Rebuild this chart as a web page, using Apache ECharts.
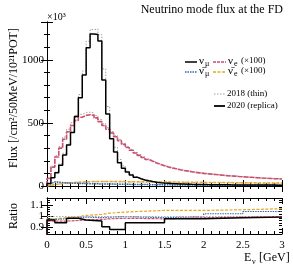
<!DOCTYPE html>
<html><head><meta charset="utf-8">
<script src="https://cdn.jsdelivr.net/npm/echarts@6/dist/echarts.min.js"></script>
<style>html,body{margin:0;padding:0;background:#fff}#c{width:293px;height:266px}</style>
</head><body><div id="c"></div>
<script>
// ---- data (flux in units of 10^3 /cm2/50MeV/1e21 POT; nue, antinue scaled x100) ----
const numu2020 = [20,65,105,165,245,325,425,550,700,880,1095,1205,1200,1150,840,570,375,270,185,140,
  110,87,70,58,48,41,35,30,26,23,21,19,17.5,16,15,14,13,12.5,12,11.5,
  11,10.6,10.2,9.9,9.6,9.3,9.0,8.8,8.6,8.4,8.2,8.0,7.8,7.6,7.5,7.3,7.2,7.0,6.9,6.8];
const numu2018 = [21,67,112,176,260,332,434,561,725,912,1147,1240,1245,1200,928,630,426,307,210,159,
  117,93,74,62,51,44,37,32,28,24,21.5,19.5,18,16.4,15.4,14.4,13.3,12.8,12.3,11.8,
  11.2,10.8,10.4,10.1,9.8,9.4,9.1,8.9,8.7,8.5,8.3,8.1,7.9,7.7,7.6,7.4,7.3,7.1,7.0,6.9];
const nue2020 = [60,150,230,300,370,430,480,520,545,560,565,560,540,510,480,450,420,390,360,330,
  305,283,262,243,226,210,196,183,171,160,151,143,136,129,123,118,113,108,104,100,
  97,94,91,88,85,82,80,78,75,73,71,69,67,65,63,62,60,58,57,55];
const nue2018 = [63,157,241,314,388,450,502,543,568,583,585,579,558,527,494,463,431,400,369,338,
  312,290,268,249,231,215,200,187,175,164,154,146,139,132,126,120,115,110,106,102,
  98,95,92,89,86,83,81,79,76,74,71,69,67,65,63,62,60,58,57,55];
const antinumu2020 = [18,32,30,27,25,23,22,21,20,19,18,17.5,17,16.5,16,15.5,15,14.5,14,13.5,
  13,12.6,12.2,11.8,11.4,11,10.6,10.2,9.9,9.6,9.3,9.0,8.7,8.4,8.1,7.8,7.6,7.4,7.2,7.0,
  6.8,6.7,6.5,6.4,6.2,6.1,6.0,5.9,5.8,5.7,5.6,5.5,5.4,5.3,5.3,5.2,5.1,5.1,5.0,5.0];
const antinumu2018 = [18.5,33,31,27.5,25.5,23.3,22.3,21.3,20.2,19.2,18.3,17.7,17.2,16.7,16.1,15.6,15.1,14.6,14.1,13.6,
  13.1,12.7,12.3,11.9,11.5,11.1,10.7,10.3,10.0,9.7,9.4,9.1,8.8,8.5,8.2,7.9,7.7,7.5,7.3,7.1,
  6.8,6.6,6.4,6.3,6.1,6.0,5.9,5.8,5.7,5.6,5.4,5.3,5.2,5.1,5.1,5.0,4.9,4.9,4.8,4.8];
const antinue2020 = [5,10,15,19,23,26,28,30,32,33,34,35,35.5,36,36,36,36,35.5,35,34.8,
  34.5,34.2,34,33.7,33.4,33.1,32.8,32.5,32.2,31.9,31.6,31.3,31,30.7,30.4,30.1,29.8,29.5,29.2,28.9,
  28.6,28.3,28,27.7,27.4,27.1,26.8,26.5,26.2,25.9,25.6,25.3,25,24.7,24.4,24.1,23.8,23.5,23.2,23];
const antinue2018 = [5.1,10.2,15.2,19.1,23,25.8,27.6,29.4,31.2,32,32.8,33.6,34,34.3,34.2,34,33.9,33.3,32.8,32.5,
  32.2,32,31.7,31.4,31.1,30.8,30.5,30.2,29.9,29.6,30,29.7,29.4,29.1,28.8,28.5,28.2,27.9,27.6,27.3,
  26.9,26.6,26.3,26,25.7,25.4,25.1,24.8,24.5,24.2,23.8,23.5,23.2,22.9,22.6,22.3,22,21.8,21.5,21.3];

const ratioEdges = [0,0.1,0.25,0.4,0.5,0.7,0.8,1.0,1.5,2.0,2.5,3.0];
const ratioNumu     = [0.965,0.94,0.98,0.965,0.955,0.905,0.88,0.94,0.975,0.985,0.99];
const ratioNue      = [0.955,0.955,0.96,0.965,0.97,0.975,0.98,0.975,0.985,0.99,0.995];
const ratioAntinumu = [0.97,0.975,0.985,0.99,0.985,0.99,0.995,0.985,0.995,1.02,1.04];
const ratioAntinue  = [0.975,0.985,0.995,1.005,1.015,1.025,1.035,1.05,1.05,1.055,1.065];

const xTicks = [0,0.5,1,1.5,2,2.5,3];
const fluxTicks = [0,500,1000];
const ratioTicks = [0.9,1,1.1];
const ratioMinor = [0.86,0.88,0.92,0.94,0.96,0.98,1.02,1.04,1.06,1.08,1.12,1.14];

const binEdges = Array.from({length:61},(_,i)=>+(i*0.05).toFixed(2));

// ---- styling ----
const FONT = 'Liberation Serif';
const C_NUMU = '#000000', C_NUE = '#cc4f6f', C_ANUMU = '#2f62b4', C_ANUE = '#e9a81a', C_OLD = '#a0a0a0';

function histData(edges, vals){
  const d = [[edges[0], 0]];
  vals.forEach((v,i)=>d.push([edges[i], v]));
  d.push([edges[edges.length-1], vals[vals.length-1]]);
  return d;
}
function hist(edges, vals, color, width, type, xi, yi, z){
  return {type:'line', xAxisIndex:xi, yAxisIndex:yi, data:histData(edges, vals), step:'end',
    symbol:'none', silent:true, animation:false, z:z, clip:true,
    lineStyle:{color:color, width:width, type:type}};
}
const axLine = {show:true, lineStyle:{color:'#000', width:1}};
function xAx(grid, pos, labels){
  return {type:'value', gridIndex:grid, position:pos, min:0, max:3, interval:0.5,
    axisLine:axLine, splitLine:{show:false},
    axisTick:{show:true, inside:true, length:6, lineStyle:{color:'#000'}},
    minorTick:{show:true, splitNumber:5, length:3, lineStyle:{color:'#000'}},
    axisLabel:{show:labels, color:'#000', fontFamily:FONT, fontSize:11, margin:6,
      formatter:(v)=>String(v), customValues: labels ? xTicks : undefined}};
}

const chart = echarts.init(document.getElementById('c'), null, {renderer:'canvas'});

const series = [
  hist(binEdges, numu2018, C_OLD, 1, [1.5,1.5], 0, 0, 2),
  hist(binEdges, nue2018, C_OLD, 1, [1.5,1.5], 0, 0, 2),
  hist(binEdges, antinumu2018, C_OLD, 1, [1.5,1.5], 0, 0, 2),
  hist(binEdges, antinue2018, C_OLD, 1, [1.5,1.5], 0, 0, 2),
  hist(binEdges, antinue2020, C_ANUE, 1.5, [3,1.5], 0, 0, 3),
  hist(binEdges, antinumu2020, C_ANUMU, 1.5, [1.5,1], 0, 0, 4),
  hist(binEdges, nue2020, C_NUE, 1.6, [5,1], 0, 0, 5),
  hist(binEdges, numu2020, C_NUMU, 1.5, 'solid', 0, 0, 6),
  hist(ratioEdges, ratioAntinue, C_ANUE, 1.2, [3,1.5], 2, 2, 3),
  hist(ratioEdges, ratioAntinumu, C_ANUMU, 1.2, [1.5,1], 2, 2, 4),
  hist(ratioEdges, ratioNue, C_NUE, 1.2, [3,1], 2, 2, 5),
  Object.assign(hist(ratioEdges, ratioNumu, C_NUMU, 1.5, 'solid', 2, 2, 6), {
    markLine:{silent:true, symbol:'none', label:{show:false}, animation:false,
      lineStyle:{color:'#aaaaaa', type:[1.5,1.5], width:1}, data:[{yAxis:1}]}})
];

// legend drawn as graphic
function legLine(x1, x2, y, color, width, dash){
  return {type:'line', shape:{x1:x1, y1:y, x2:x2, y2:y}, style:{stroke:color, lineWidth:width, lineDash:dash}, silent:true};
}
function txt(x, y, s, size, align){
  return {type:'text', x:x, y:y, silent:true,
    style:{text:s, font: size + 'px "' + FONT + '"', fill:'#000', textAlign:align||'left', textVerticalAlign:'middle'}};
}
function nuLabel(x, y, sub, bar, extra){
  const g = [txt(x, y, bar ? 'ν̄' : 'ν', 11), txt(x+6, y+3, sub, 8)];
  if (extra) g.push(txt(x + 13, y, extra, 9));
  return g;
}
const graphics = [
  txt(283, 10, 'Neutrino mode flux at the FD', 12, 'right'),
  txt(47, 17, '×10³', 10),
  {type:'text', x:14, y:98, rotation:Math.PI/2, silent:true,
    style:{text:'Flux [/cm²/50MeV/10²¹POT]', font:'12px "'+FONT+'"', fill:'#000', textAlign:'center', textVerticalAlign:'middle'}},
  {type:'text', x:14, y:216, rotation:Math.PI/2, silent:true,
    style:{text:'Ratio', font:'12px "'+FONT+'"', fill:'#000', textAlign:'center', textVerticalAlign:'middle'}},
  txt(244, 258, 'E', 12),
  txt(252, 262, 'ν', 8),
  txt(259, 258, '[GeV]', 12),
  legLine(185, 197, 62, C_NUMU, 1.5, null),
  ...nuLabel(199, 61, 'μ', false),
  legLine(213, 226, 62, C_NUE, 1.3, [3,1]),
  ...nuLabel(228, 61, 'e', false, '(×100)'),
  legLine(185, 197, 72, C_ANUMU, 1.5, [1.5,1]),
  ...nuLabel(199, 71, 'μ', true),
  legLine(213, 226, 72, C_ANUE, 1.3, [3,1.5]),
  ...nuLabel(228, 71, 'e', true, '(×100)'),
  legLine(214, 225, 94, C_OLD, 1, [1.5,1.5]),
  txt(227, 94, '2018 (thin)', 9),
  legLine(214, 225, 106, '#000', 1.8, null),
  txt(227, 106, '2020 (replica)', 9)
];

chart.setOption({
  animation:false,
  backgroundColor:'#fff',
  grid:[{left:47, right:11, top:22, height:164},{left:47, right:11, top:198, height:36}],
  xAxis:[xAx(0,'bottom',false), xAx(0,'top',false), xAx(1,'bottom',true), xAx(1,'top',false)],
  yAxis:[
    {type:'value', gridIndex:0, position:'left', min:0, max:1300, interval:500,
      axisLine:axLine, splitLine:{show:false},
      axisTick:{show:true, inside:true, length:6, lineStyle:{color:'#000'}},
      minorTick:{show:true, splitNumber:5, length:3, lineStyle:{color:'#000'}},
      axisLabel:{color:'#000', fontFamily:FONT, fontSize:11, margin:3, formatter:(v)=>String(v), customValues:fluxTicks}},
    {type:'value', gridIndex:0, position:'right', min:0, max:1300, interval:500,
      axisLine:axLine, splitLine:{show:false},
      axisTick:{show:true, inside:true, length:6, lineStyle:{color:'#000'}},
      minorTick:{show:true, splitNumber:5, length:3, lineStyle:{color:'#000'}},
      axisLabel:{show:false}},
    {type:'value', gridIndex:1, position:'left', min:0.84, max:1.16,
      axisLine:axLine, splitLine:{show:false},
      axisTick:{show:true, inside:true, length:6, customValues:ratioTicks, lineStyle:{color:'#000'}},
      axisLabel:{color:'#000', fontFamily:FONT, fontSize:11, margin:3, formatter:(v)=>String(v), customValues:ratioTicks}},
    {type:'value', gridIndex:1, position:'right', min:0.84, max:1.16,
      axisLine:axLine, splitLine:{show:false},
      axisTick:{show:true, inside:true, length:6, customValues:ratioTicks, lineStyle:{color:'#000'}},
      axisLabel:{show:false}},
    {type:'value', gridIndex:1, position:'left', min:0.84, max:1.16,
      axisLine:{show:false}, splitLine:{show:false},
      axisTick:{show:true, inside:true, length:3, customValues:ratioMinor, lineStyle:{color:'#000'}},
      axisLabel:{show:false}},
    {type:'value', gridIndex:1, position:'right', min:0.84, max:1.16,
      axisLine:{show:false}, splitLine:{show:false},
      axisTick:{show:true, inside:true, length:3, customValues:ratioMinor, lineStyle:{color:'#000'}},
      axisLabel:{show:false}}
  ],
  series: series,
  graphic: graphics
});
</script></body></html>
